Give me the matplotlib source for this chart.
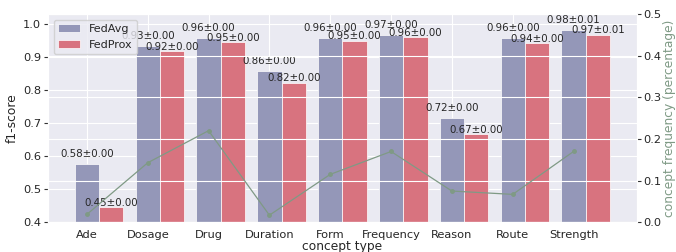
import numpy as np
import matplotlib.pyplot as plt
import seaborn as sns

sns.set_style('darkgrid')

concepts = ['Ade', 'Dosage', 'Drug', 'Duration', 'Form', 'Frequency', 'Reason', 'Route', 'Strength']
fedavg = [0.576, 0.933, 0.957, 0.857, 0.958, 0.967, 0.717, 0.959, 0.981]
fedavg_std = [0.00, 0.00, 0.00, 0.00, 0.00, 0.00, 0.00, 0.00, 0.01]
fedprox = [0.445, 0.918, 0.946, 0.823, 0.950, 0.960, 0.666, 0.942, 0.968]
fedprox_std = [0.00, 0.00, 0.00, 0.00, 0.00, 0.00, 0.00, 0.00, 0.01]
freq = [0.019, 0.143, 0.220, 0.017, 0.115, 0.170, 0.075, 0.067, 0.170]

x = np.arange(len(concepts))
w = 0.4

fig, ax = plt.subplots(figsize=(6.76, 2.52), dpi=100)
fig.subplots_adjust(left=0.071, right=0.942, top=0.944, bottom=0.118)

b1 = ax.bar(x, fedavg, w, color='#9497b8', edgecolor='white', linewidth=0.5, label='FedAvg')
b2 = ax.bar(x + w, fedprox, w, color='#d8737f', edgecolor='white', linewidth=0.5, label='FedProx')

# fedavg labels sit a bit higher than the fedprox ones
for bars, means, stds, off in [(b1, fedavg, fedavg_std, 3.5), (b2, fedprox, fedprox_std, -0.5)]:
    for b, m, s in zip(bars, means, stds):
        ax.annotate('{:.2f}±{:.2f}'.format(m, s), (b.get_x() + b.get_width() / 2, m),
                    xytext=(0, off), textcoords='offset points',
                    ha='center', va='bottom', fontsize=7.4, color='#262626')

ax.set_ylim(bottom=0.4)
ax.set_xticks(x)
ax.set_xticklabels(concepts, fontsize=8.2)
ax.tick_params(axis='y', labelsize=8.2, left=True, length=3, pad=2, color='#333333')
ax.tick_params(axis='x', pad=2)
ax.set_xlabel('concept type', fontsize=8.8, labelpad=0)
ax.set_ylabel('f1-score', fontsize=8.8, labelpad=3)
ax.legend(loc='upper left', fontsize=8)

ax2 = ax.twinx()
ax2.plot(x, freq, 'o-', color='#7f9a85', linewidth=0.9, markersize=2.5)
ax2.set_ylim(0, 0.5)
ax2.tick_params(axis='y', labelsize=8.2, right=True, length=3, pad=2, color='#333333')
ax2.set_ylabel('concept frequency (percentage)', fontsize=8.8, color='#7f9a85', labelpad=1)

plt.savefig('out.png', dpi=100)
